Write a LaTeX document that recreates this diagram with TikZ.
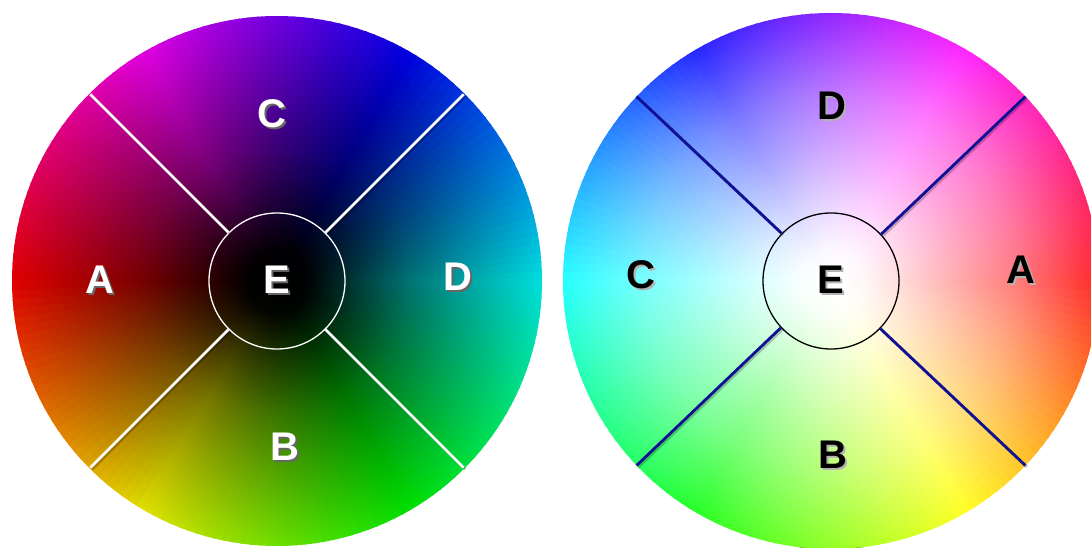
\documentclass[tikz,border=0pt]{standalone}
\usepackage{fontspec}
\setmainfont{Liberation Sans}
\usetikzlibrary{positioning}

\definecolor{spokeblue}{RGB}{16,16,150}

% radial overlays: dark centre (multiply) and light centre (screen)
\pgfdeclareradialshading{darkcore}{\pgfpoint{0bp}{0bp}}{%
  rgb(0bp)=(0,0,0); rgb(3bp)=(0.02,0.02,0.02); rgb(6.25bp)=(0.2,0.2,0.2);
  rgb(12.5bp)=(0.52,0.52,0.52); rgb(17.5bp)=(0.72,0.72,0.72); rgb(25bp)=(1,1,1); rgb(50bp)=(1,1,1)}
\pgfdeclareradialshading{lightcore}{\pgfpoint{0bp}{0bp}}{%
  rgb(0bp)=(1,1,1); rgb(3bp)=(0.96,0.96,0.96); rgb(6.25bp)=(0.84,0.84,0.84);
  rgb(12.5bp)=(0.58,0.58,0.58); rgb(17.5bp)=(0.38,0.38,0.38); rgb(25bp)=(0,0,0); rgb(50bp)=(0,0,0)}

\newcommand{\dropshade}[2]{\makebox[0pt][l]{\hspace{1.8pt}\raisebox{-1.8pt}{\textcolor{#1}{#2}}}#2}

\begin{document}
\begin{tikzpicture}[
  ring/.style={circle,draw=#1,line width=1.3pt,minimum size=136pt,inner sep=0pt},
  spoke/.style={draw=#1,line width=2.8pt,
    preaction={draw=black,draw opacity=0.22,line width=3pt,transform canvas={shift={(1.6pt,-1.6pt)}}}},
  letter/.style={text=#1,font=\fontsize{40}{46}\selectfont\bfseries,inner sep=0pt}]
\useasboundingbox (0pt,0pt) rectangle (1091pt,547pt);
\fill[white] (0pt,0pt) rectangle (1091pt,547pt);
\def\rl{265pt}
\def\rr{268pt}
\coordinate (cL) at (277pt,266pt);
\coordinate (cR) at (831pt,266pt);

% hue wedges
\foreach \a in {0,2,...,358}{
  \pgfmathtruncatemacro\hl{mod(\a+181,360)}
  \pgfmathtruncatemacro\hr{mod(719-\a,360)}
  \definecolor{huel}{Hsb}{\hl,1,0.88}
  \definecolor{huer}{Hsb}{\hr,0.85,1}
  \fill[huel] (cL) -- ++(\a:\rl) arc[start angle=\a,end angle=\a+2.5,radius=\rl] -- cycle;
  \fill[huer] (cR) -- ++(\a:\rr) arc[start angle=\a,end angle=\a+2.5,radius=\rr] -- cycle;
}
\begin{scope}[blend mode=multiply]
  \shade[shading=darkcore] (cL) circle (\rl);
\end{scope}
\begin{scope}[blend mode=screen]
  \shade[shading=lightcore] (cR) circle (\rr);
\end{scope}

% rim points
\path (cL) ++(45:264pt) coordinate (lne) (cL) ++(135:264pt) coordinate (lnw)
      (cL) ++(225:264pt) coordinate (lsw) (cL) ++(315:264pt) coordinate (lse);
\path (cR) ++(43.5:268pt) coordinate (rne) (cR) ++(136.5:268pt) coordinate (rnw)
      (cR) ++(223.5:268pt) coordinate (rsw) (cR) ++(316.5:268pt) coordinate (rse);

% left wheel
\node[ring=white,letter=white] (eL) at (cL) {\dropshade{black!60}{E}};
\draw[spoke=white] (eL.45) -- (lne);
\draw[spoke=white] (eL.135) -- (lnw);
\draw[spoke=white] (eL.225) -- (lsw);
\draw[spoke=white] (eL.315) -- (lse);
\node[letter=white] (cLbl) at (272pt,432pt) {\dropshade{black!60}{C}};
\node[letter=white] (aLbl) at (100pt,266pt) {\dropshade{black!60}{A}};
\node[letter=white] (dLbl) at (458pt,269pt) {\dropshade{black!60}{D}};
\node[letter=white] (bLbl) at (285pt,99pt) {\dropshade{black!60}{B}};

% right wheel
\node[ring=black,letter=black] (eR) at (cR) {\dropshade{black!30}{E}};
\draw[spoke=spokeblue] (eR.43.5) -- (rne);
\draw[spoke=spokeblue] (eR.136.5) -- (rnw);
\draw[spoke=spokeblue] (eR.223.5) -- (rsw);
\draw[spoke=spokeblue] (eR.316.5) -- (rse);
\node[letter=black] (dRbl) at (832pt,440pt) {\dropshade{black!30}{D}};
\node[letter=black] (cRbl) at (641pt,271pt) {\dropshade{black!30}{C}};
\node[letter=black] (aRbl) at (1021pt,276pt) {\dropshade{black!30}{A}};
\node[letter=black] (bRbl) at (833pt,91pt) {\dropshade{black!30}{B}};
\end{tikzpicture}
\end{document}
